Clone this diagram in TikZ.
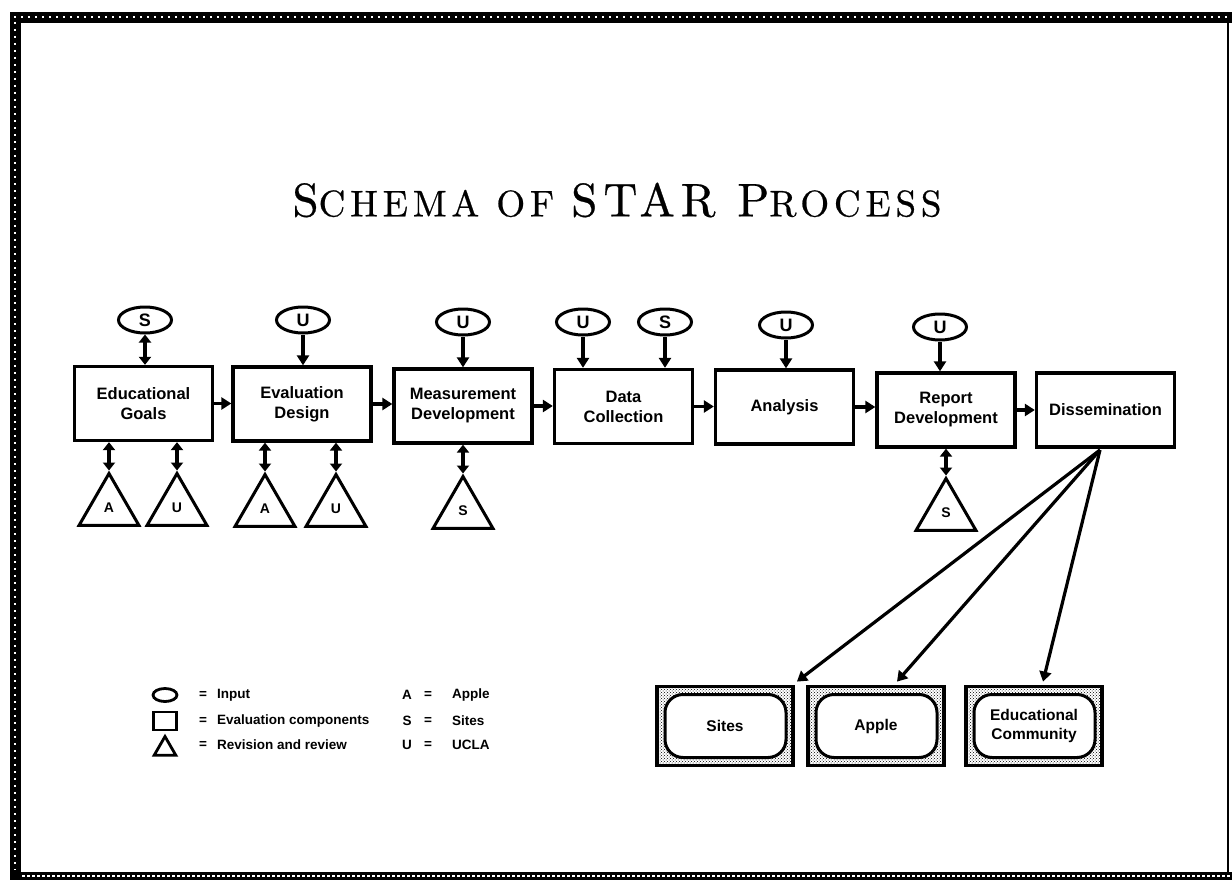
\documentclass[tikz,border=0pt]{standalone}
\usepackage{fontspec}
\setsansfont{Liberation Sans}
\newfontfamily\titlefont{lmroman10-regular.otf}[LetterSpace=13,FakeBold=0.6]
\usetikzlibrary{arrows.meta,shapes.geometric,calc,patterns}
\begin{document}
\begin{tikzpicture}[x=1pt,y=-1pt,
  comp/.style={draw, line width=3.3pt, minimum width=138pt, minimum height=74pt, inner sep=2pt, align=center, font=\sffamily\bfseries\fontsize{16.5}{20}\selectfont},
  inp/.style={draw, ellipse, line width=3pt, minimum width=53pt, minimum height=26pt, inner sep=0pt, font=\sffamily\bfseries\fontsize{18}{18}\selectfont},
  rev/.style={draw, regular polygon, regular polygon sides=3, line width=3pt, minimum size=69pt, inner sep=0pt, font=\sffamily\bfseries\fontsize{14}{14}\selectfont},
  arr/.style={line width=3.2pt, -{Triangle[length=10pt,width=12pt]}},
  darr/.style={line width=3.2pt, {Triangle[length=8pt,width=12pt]}-{Triangle[length=8pt,width=12pt]}},
  tgt/.style={draw, line width=3.8pt, minimum width=136pt, minimum height=79pt, align=center,
    font=\sffamily\bfseries\fontsize{15.5}{19}\selectfont, pattern=crosshatch dots,
    path picture={\draw[line width=3pt, fill=white, rounded corners=18pt]
      ([xshift=8pt,yshift=8pt]path picture bounding box.south west) rectangle
      ([xshift=-7pt,yshift=-8pt]path picture bounding box.north east);}},
  leg/.style={font=\sffamily\bfseries\fontsize{13.5}{15}\selectfont, inner sep=0pt},
]
\useasboundingbox (0,0) rectangle (1232,883);
% frame
\fill (10,12) rectangle (1232,23);
\fill (10,12) rectangle (21,880);
\fill (10,872) rectangle (1232,880);
\draw[white, line width=2pt, dash pattern=on 2pt off 5pt] (14,17.5) -- (1232,17.5);
\draw[white, line width=2pt, dash pattern=on 2pt off 5pt] (15,22) -- (15,870);
\draw[white, line width=1.5pt, dash pattern=on 3pt off 2pt] (22,876) -- (1232,876);
\draw[line width=1.5pt] (1228,23) -- (1228,872);

% title
\node (title) at (617,200) {\titlefont\fontsize{47}{47}\selectfont S\fontsize{37}{37}\selectfont CHEMA OF \fontsize{47}{47}\selectfont STAR P\fontsize{37}{37}\selectfont ROCESS};

% components
\node[comp] (b1) at (143.5,403.5) {Educational\\Goals};
\node[comp] (b2) at (302,404) {Evaluation\\Design};
\node[comp] (b3) at (463,406) {Measurement\\Development};
\node[comp] (b4) at (623.5,406.5) {Data\\Collection};
\node[comp] (b5) at (784.5,407) {Analysis};
\node[comp] (b6) at (946,410) {Report\\Development};
\node[comp] (b7) at (1105.5,410) {Dissemination};

% inputs
\node[inp] (e1) at (145,320) {S};
\node[inp] (e2) at (303,320) {U};
\node[inp] (e3) at (463,322) {U};
\node[inp] (e4) at (583,322) {U};
\node[inp] (e5) at (665,322) {S};
\node[inp] (e6) at (786,325) {U};
\node[inp] (e7) at (940,327) {U};

\draw[darr] (e1.south) -- (e1.south |- b1.north);
\draw[arr] (e2.south) -- (e2.south |- b2.north);
\draw[arr] (e3.south) -- (e3.south |- b3.north);
\draw[arr] (e4.south) -- (e4.south |- b4.north);
\draw[arr] (e5.south) -- (e5.south |- b4.north);
\draw[arr] (e6.south) -- (e6.south |- b5.north);
\draw[arr] (e7.south) -- (e7.south |- b6.north);

% flow
\draw[arr] (b1.east) -- (b1.east -| b2.west);
\draw[arr] (b2.east) -- (b2.east -| b3.west);
\draw[arr] (b3.east) -- (b3.east -| b4.west);
\draw[arr] (b4.east) -- (b4.east -| b5.west);
\draw[arr] (b5.east) -- (b5.east -| b6.west);
\draw[arr] (b6.east) -- (b6.east -| b7.west);

% reviews
\node[rev] (t1) at (109,508) {A};
\node[rev] (t2) at (177,508) {U};
\node[rev] (t3) at (265,509) {A};
\node[rev] (t4) at (336,509) {U};
\node[rev] (t5) at (463,511) {S};
\node[rev] (t6) at (946,513) {S};
\draw[darr] (t1.north |- b1.south) -- (t1.north);
\draw[darr] (t2.north |- b1.south) -- (t2.north);
\draw[darr] (t3.north |- b2.south) -- (t3.north);
\draw[darr] (t4.north |- b2.south) -- (t4.north);
\draw[darr] (t5.north |- b3.south) -- (t5.north);
\draw[darr] (t6.north |- b6.south) -- (t6.north);

% targets
\node[tgt] (s1) at (725,726) {Sites};
\node[tgt] (s2) at (876,726) {Apple};
\node[tgt] (s3) at (1034,726) {Educational\\Community};
\coordinate (fan) at (1100,450);
\draw[arr] (fan) -- ($(s1.north east)+(2,-3)$);
\draw[arr] (fan) -- ($(s2.north)+(21,-3)$);
\draw[arr] (fan) -- ($(s3.north)+(9,-3)$);

% legend
\node[draw, ellipse, line width=2.8pt, minimum width=24pt, minimum height=13pt, inner sep=0pt] (li) at (165,695) {};
\node[draw, line width=2.8pt, minimum width=23pt, minimum height=18pt, inner sep=0pt] (lr) at (165,721) {};
\node[draw, regular polygon, regular polygon sides=3, line width=2.8pt, minimum size=25pt, inner sep=0pt] (lt) at (165,749) {};
\node[leg] (q1) at (203,695) {=};
\node[leg] (q2) at (203,721) {=};
\node[leg] (q3) at (203,745) {=};
\node[leg, anchor=west] (x1) at (217,695) {Input};
\node[leg, anchor=west] (x2) at (217,721) {Evaluation components};
\node[leg, anchor=west] (x3) at (217,745) {Revision and review};
\node[leg] (k1) at (407,695) {A};
\node[leg] (k2) at (407,721) {S};
\node[leg] (k3) at (407,745) {U};
\node[leg] (r1) at (428,695) {=};
\node[leg] (r2) at (428,721) {=};
\node[leg] (r3) at (428,745) {=};
\node[leg, anchor=west] (y1) at (452,695) {Apple};
\node[leg, anchor=west] (y2) at (452,721) {Sites};
\node[leg, anchor=west] (y3) at (452,745) {UCLA};
\end{tikzpicture}
\end{document}
